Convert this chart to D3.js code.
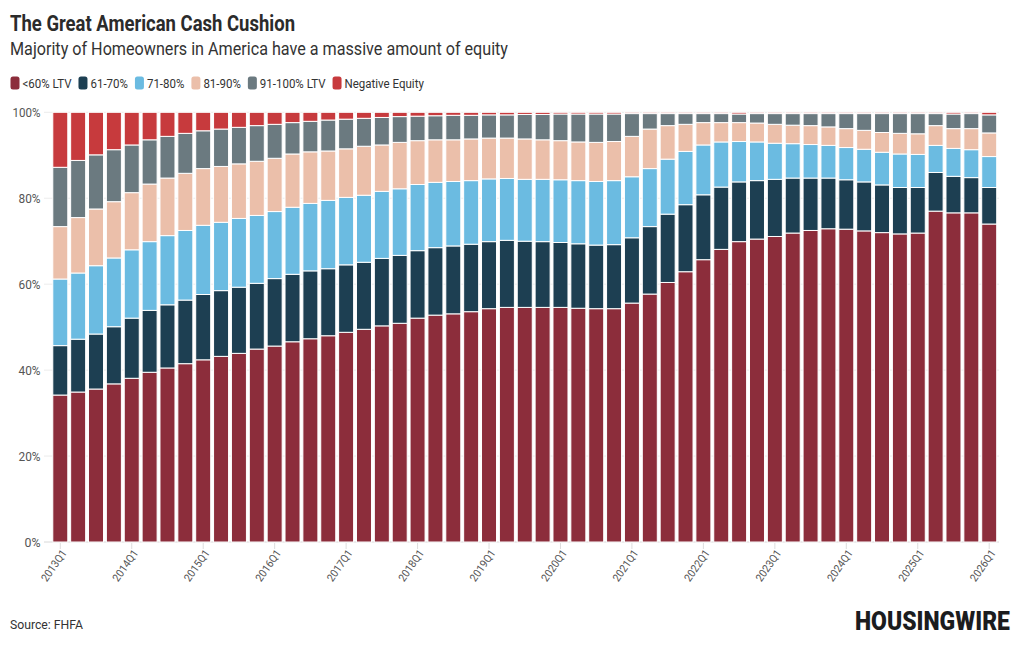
<!DOCTYPE html>
<html>
<head>
<meta charset="utf-8">
<script src="https://cdn.jsdelivr.net/npm/d3@7"></script>
<style>
  body { margin: 0; background: #fff; }
  svg text { font-family: Roboto, "Noto Sans", sans-serif; }
</style>
</head>
<body>
<svg id="chart" width="1020" height="650"></svg>
<script>
// quarters shown on the x axis
const quarters = [
    '2013Q1','2013Q2','2013Q3','2013Q4','2014Q1','2014Q2','2014Q3','2014Q4',
    '2015Q1','2015Q2','2015Q3','2015Q4','2016Q1','2016Q2','2016Q3','2016Q4',
    '2017Q1','2017Q2','2017Q3','2017Q4','2018Q1','2018Q2','2018Q3','2018Q4',
    '2019Q1','2019Q2','2019Q3','2019Q4','2020Q1','2020Q2','2020Q3','2020Q4',
    '2021Q1','2021Q2','2021Q3','2021Q4','2022Q1','2022Q2','2022Q3','2022Q4',
    '2023Q1','2023Q2','2023Q3','2023Q4','2024Q1','2024Q2','2024Q3','2024Q4',
    '2025Q1','2025Q2','2025Q3','2025Q4','2026Q1'
]

const xTickLabels = ['2013Q1','2014Q1','2015Q1','2016Q1','2017Q1','2018Q1','2019Q1',
    '2020Q1','2021Q1','2022Q1','2023Q1','2024Q1','2025Q1','2026Q1']

const yTicks = [0, 20, 40, 60, 80, 100]

// share of mortgages (%) per LTV bucket
const ltvUnder60 = [34.2,34.9,35.6,36.8,38.1,39.5,40.5,41.5,42.4,43.2,43.9,44.9,45.6,46.6,47.3,48.0,
    48.8,49.5,50.3,50.9,52.1,52.8,53.1,53.6,54.3,54.6,54.6,54.6,54.6,54.4,54.3,54.3,
    55.6,57.7,60.4,62.9,65.7,68.1,69.9,70.5,71.1,71.9,72.5,72.9,72.8,72.4,72.0,71.7,
    71.9,77.0,76.6,76.6,74.0]
const ltv61to70 = [11.5,12.3,12.8,13.3,14.0,14.4,14.7,14.8,15.2,15.3,15.4,15.3,15.7,15.7,15.8,15.6,
    15.7,15.6,15.7,15.8,15.7,15.7,15.8,15.7,15.6,15.6,15.4,15.3,15.1,15.0,14.8,14.9,
    15.2,15.7,15.9,15.6,15.1,14.5,13.9,13.6,13.3,12.8,12.2,11.8,11.5,11.4,11.1,10.8,
    10.6,9.0,8.5,8.2,8.5]
const ltv71to80 = [15.5,15.4,15.9,16.0,15.9,16.0,16.1,16.2,16.1,15.9,16.0,15.8,15.6,15.6,15.7,15.9,
    15.7,15.6,15.6,15.5,15.4,15.2,15.0,14.8,14.6,14.4,14.4,14.5,14.6,14.7,14.8,14.9,
    14.2,13.5,12.8,12.4,11.6,10.5,9.4,9.0,8.4,8.0,7.8,7.6,7.5,7.6,7.6,7.8,
    7.7,6.3,6.5,6.5,7.2]
const ltv81to90 = [12.2,12.9,13.2,13.1,13.3,13.4,13.4,13.3,13.2,13.0,12.7,12.6,12.4,12.4,12.0,11.5,
    11.3,11.4,10.8,10.8,10.2,9.9,9.7,9.7,9.5,9.4,9.4,9.2,9.1,9.0,9.1,9.1,
    9.4,9.2,7.8,6.3,5.2,4.5,4.4,4.4,4.4,4.3,4.4,4.3,4.4,4.4,4.6,4.8,
    4.8,4.6,4.6,4.9,5.5]
const ltv91to100 = [13.8,13.3,12.6,12.1,11.1,10.3,9.7,9.3,8.8,8.7,8.5,8.3,7.9,7.3,7.1,7.2,
    6.9,6.5,6.4,6.0,5.7,5.6,5.7,5.5,5.4,5.4,5.7,5.9,6.2,6.5,6.6,6.4,
    5.3,3.6,2.8,2.5,2.1,2.1,2.0,2.2,2.5,2.7,2.8,3.1,3.5,3.9,4.4,4.6,
    4.7,2.8,3.4,3.5,4.2]
const negativeEquity = [12.8,11.2,9.9,8.7,7.6,6.4,5.6,4.9,4.3,3.9,3.5,3.1,2.8,2.4,2.1,1.8,
    1.6,1.4,1.2,1.0,0.9,0.8,0.7,0.7,0.6,0.6,0.5,0.5,0.4,0.4,0.4,0.4,
    0.3,0.3,0.3,0.3,0.3,0.3,0.4,0.3,0.3,0.3,0.3,0.3,0.3,0.3,0.3,0.3,
    0.3,0.3,0.4,0.3,0.6]

const seriesKeys = ['lt60', 'l61', 'l71', 'l81', 'l91', 'neg']
const seriesLabels = ['<60% LTV', '61-70%', '71-80%', '81-90%', '91-100% LTV', 'Negative Equity']
const seriesColors = ['#8c2d3b', '#1d3f52', '#6bbbe1', '#ebbfaa', '#6b7a80', '#c73a3d']

const rows = quarters.map((q, i) => ({
    quarter: q,
    lt60: ltvUnder60[i],
    l61: ltv61to70[i],
    l71: ltv71to80[i],
    l81: ltv81to90[i],
    l91: ltv91to100[i],
    neg: negativeEquity[i]
}))

const svg = d3.select('#chart')
const color = d3.scaleOrdinal().domain(seriesKeys).range(seriesColors)

const x = d3.scaleBand()
    .domain(quarters)
    .range([51, 998.5])
    .paddingInner(0.16)
    .paddingOuter(0.1)

const y = d3.scaleLinear()
    .domain([0, 100])
    .range([542, 112.3])

// header ////////
svg.append('text')
    .attr('x', 10).attr('y', 31)
    .attr('font-size', 22).attr('font-weight', 700)
    .attr('fill', '#2b2b2b')
    .attr('textLength', 285).attr('lengthAdjust', 'spacingAndGlyphs')
    .text('The Great American Cash Cushion')

svg.append('text')
    .attr('x', 10).attr('y', 55)
    .attr('font-size', 17.5)
    .attr('fill', '#333')
    .attr('textLength', 498).attr('lengthAdjust', 'spacingAndGlyphs')
    .text('Majority of Homeowners in America have a massive amount of equity')

// legend, laid out left to right
const legend = svg.append('g')
let lx = 10.5
seriesLabels.forEach((label, i) => {
    legend.append('rect')
        .attr('x', lx).attr('y', 76.5)
        .attr('width', 9).attr('height', 13)
        .attr('rx', 2.5)
        .attr('fill', seriesColors[i])
    const t = legend.append('text')
        .attr('x', lx + 12).attr('y', 87.5)
        .attr('font-size', 12.5)
        .attr('fill', '#333')
        .text(label)
    const w = t.node().getComputedTextLength() * 0.92
    t.attr('textLength', w).attr('lengthAdjust', 'spacingAndGlyphs')
    lx += 12 + w + 7
})

// grid + y axis
svg.append('g')
    .selectAll('line')
    .data(yTicks)
    .join('line')
    .attr('x1', 44).attr('x2', 999)
    .attr('y1', d => y(d)).attr('y2', d => y(d))
    .attr('stroke', d => d === 0 ? '#d8d8d8' : '#ececec')

svg.append('g')
    .selectAll('text')
    .data(yTicks)
    .join('text')
    .attr('x', 40.5)
    .attr('y', d => y(d) + 4.5)
    .attr('text-anchor', 'end')
    .attr('font-size', 12.5)
    .attr('fill', '#555')
    .attr('textLength', d => d === 100 ? 28 : d === 0 ? 16 : 22)
    .attr('lengthAdjust', 'spacingAndGlyphs')
    .text(d => d + '%')

// stacked bars ////////
const stacked = d3.stack().keys(seriesKeys)(rows)

svg.append('g')
    .selectAll('g')
    .data(stacked)
    .join('g')
    .attr('fill', d => color(d.key))
    .selectAll('rect')
    .data(d => d)
    .join('rect')
    .attr('x', d => x(d.data.quarter))
    .attr('width', x.bandwidth())
    .attr('y', d => y(d[1]))
    .attr('height', d => Math.max(0, y(d[0]) - y(d[1])))
    .attr('stroke', '#fff')
    .attr('stroke-width', 1)

// x axis ticks + rotated labels
const xAxis = svg.append('g')
xAxis.selectAll('line')
    .data(xTickLabels)
    .join('line')
    .attr('x1', d => x(d) + x.bandwidth() / 2)
    .attr('x2', d => x(d) + x.bandwidth() / 2)
    .attr('y1', 543).attr('y2', 549)
    .attr('stroke', '#ddd')

xAxis.selectAll('text')
    .data(xTickLabels)
    .join('text')
    .attr('transform', d => `translate(${x(d) + x.bandwidth() / 2 + 7},553) rotate(-55)`)
    .attr('text-anchor', 'end')
    .attr('font-size', 11)
    .attr('fill', '#555')
    .attr('textLength', 36).attr('lengthAdjust', 'spacingAndGlyphs')
    .text(d => d)

// footer ////////
svg.append('text')
    .attr('x', 10).attr('y', 629)
    .attr('font-size', 13)
    .attr('fill', '#333')
    .attr('textLength', 73).attr('lengthAdjust', 'spacingAndGlyphs')
    .text('Source: FHFA')

// logo wordmark, squeezed horizontally
const logo = svg.append('text')
    .attr('font-size', 25.5).attr('font-weight', 900)
    .attr('fill', '#1b1c1e')
    .text('HOUSINGWIRE')
const logoW = logo.node().getComputedTextLength()
logo.attr('transform', `translate(855,630) scale(${155 / logoW},1)`)
</script>
</body>
</html>
